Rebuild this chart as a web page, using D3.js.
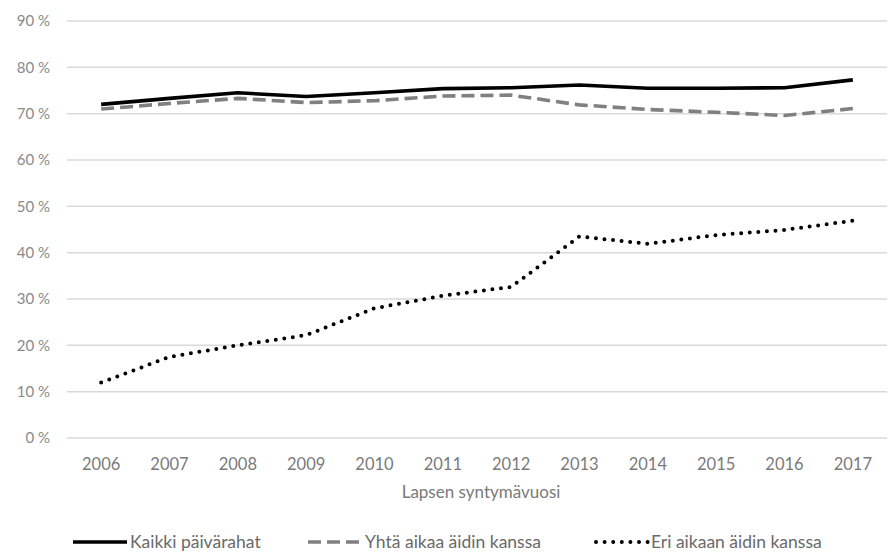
<!DOCTYPE html>
<html>
<head>
<meta charset="utf-8">
<script src="https://cdn.jsdelivr.net/npm/d3@7"></script>
<style>
  body { margin: 0; background: #fff; }
  text { font-family: Lato, "Open Sans", sans-serif; }
</style>
</head>
<body>
<div id="chart"></div>
<script>
  // chart data
  var years = ["2006", "2007", "2008", "2009", "2010", "2011", "2012", "2013", "2014", "2015", "2016", "2017"];
  var kaikki = [72, 73.3, 74.5, 73.7, 74.5, 75.4, 75.6, 76.2, 75.5, 75.5, 75.6, 77.3];
  var yhta = [71, 72.2, 73.3, 72.4, 72.8, 73.8, 74, 71.9, 70.9, 70.3, 69.6, 71.1];
  var eri = [12, 17.5, 20, 22.2, 28, 30.7, 32.6, 43.5, 41.9, 43.8, 44.9, 46.9];
  var yTicks = [0, 10, 20, 30, 40, 50, 60, 70, 80, 90];
  var seriesNames = ["Kaikki päivärahat", "Yhtä aikaa äidin kanssa", "Eri aikaan äidin kanssa"];

  var width = 891, height = 554;
  var margin = {left: 67, right: 4, top: 21, bottom: 116};

  var svg = d3.select("#chart").append("svg")
      .attr("width", width)
      .attr("height", height);

  var x = d3.scalePoint()
      .domain(years)
      .range([margin.left, width - margin.right])
      .padding(0.5);

  var y = d3.scaleLinear()
      .domain([0, 90])
      .range([height - margin.bottom, margin.top]);

  // gridlines
  svg.append("g")
      .selectAll("line")
      .data(yTicks)
    .enter().append("line")
      .attr("x1", margin.left)
      .attr("x2", width - margin.right)
      .attr("y1", function(d) { return y(d); })
      .attr("y2", function(d) { return y(d); })
      .attr("stroke", "#d9d9d9")
      .attr("stroke-width", 1.5);

  // y labels
  svg.append("g")
      .selectAll("text")
      .data(yTicks)
    .enter().append("text")
      .attr("x", 50)
      .attr("y", function(d) { return y(d); })
      .attr("dy", "0.36em")
      .attr("text-anchor", "end")
      .attr("font-size", 15)
      .attr("fill", "#8a8a8a")
      .text(function(d) { return d + " %"; });

  // x labels
  svg.append("g")
      .selectAll("text")
      .data(years)
    .enter().append("text")
      .attr("x", function(d) { return x(d); })
      .attr("y", 470)
      .attr("text-anchor", "middle")
      .attr("font-size", 16.5)
      .attr("fill", "#7a7a7a")
      .text(function(d) { return d; });

  svg.append("text")
      .attr("x", 481)
      .attr("y", 498)
      .attr("text-anchor", "middle")
      .attr("font-size", 17)
      .attr("fill", "#7a7a7a")
      .text("Lapsen syntymävuosi");

  var styles = [
    {values: kaikki, stroke: "#000", dash: null, width: 3.6, cap: "butt"},
    {values: yhta, stroke: "#808080", dash: "13,6", width: 3.6, cap: "butt"},
    {values: eri, stroke: "#000", dash: "0,8.6", width: 4, cap: "round"}
  ];

  var line = d3.line()
      .x(function(d, i) { return x(years[i]); })
      .y(function(d) { return y(d); });

  svg.append("g")
      .selectAll("path")
      .data(styles)
    .enter().append("path")
      .attr("fill", "none")
      .attr("d", function(d) { return line(d.values); })
      .attr("stroke", function(d) { return d.stroke; })
      .attr("stroke-width", function(d) { return d.width; })
      .attr("stroke-dasharray", function(d) { return d.dash; })
      .attr("stroke-linecap", function(d) { return d.cap; })
      .attr("stroke-linejoin", "round");

  // legend
  var legendX = [73, 308, 594];
  var lg = svg.append("g")
      .selectAll("g")
      .data(styles)
    .enter().append("g")
      .attr("transform", function(d, i) { return "translate(" + legendX[i] + ",542)"; });
  lg.append("line")
      .attr("x1", function(d) { return d.cap === "round" ? 2 : 0; })
      .attr("x2", 54)
      .attr("stroke", function(d) { return d.stroke; })
      .attr("stroke-width", function(d) { return d.width; })
      .attr("stroke-dasharray", function(d) { return d.dash; })
      .attr("stroke-linecap", function(d) { return d.cap; });
  lg.append("text")
      .attr("x", 57)
      .attr("dy", "0.34em")
      .attr("font-size", 17.5)
      .attr("fill", "#6a6a6a")
      .text(function(d, i) { return seriesNames[i]; });
</script>
</body>
</html>
